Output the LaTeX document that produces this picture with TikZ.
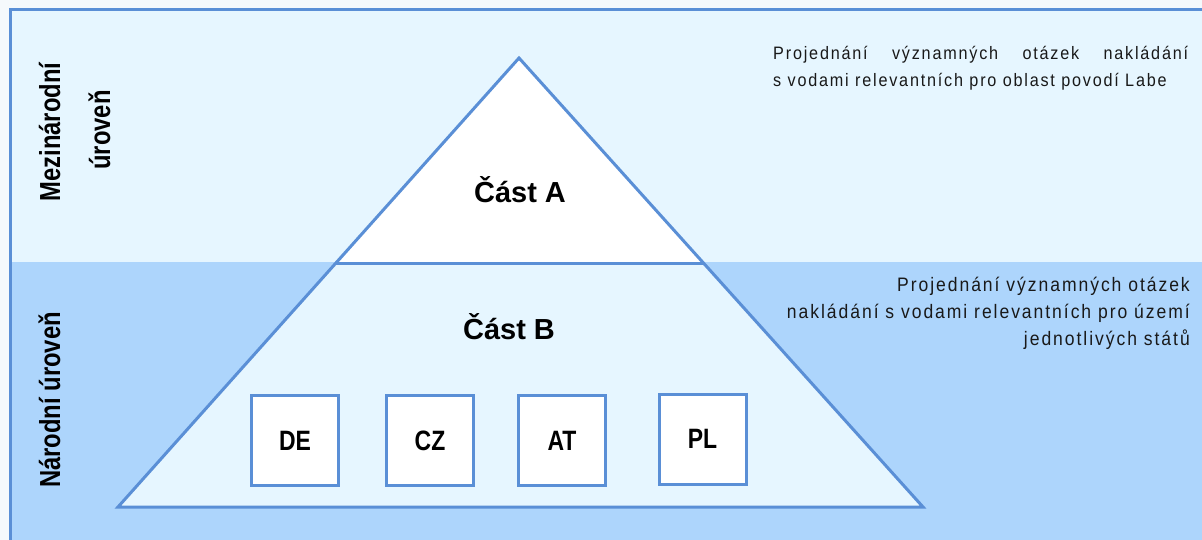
\documentclass[tikz,border=0pt]{standalone}
\usepackage{fontspec}
\setmainfont{Liberation Sans}
\newfontfamily\nbfont[FakeStretch=0.82]{Liberation Sans}
\newfontfamily\rtfont[FakeStretch=0.9,LetterSpace=10]{Liberation Sans}
\definecolor{lineblue}{HTML}{5A8FD6}
\definecolor{bandtop}{HTML}{E6F6FF}
\definecolor{bandbot}{HTML}{ADD5FC}
\definecolor{outerbg}{HTML}{F5F9FC}
\tikzset{
  tri/.style={draw=lineblue, line width=3pt, line join=miter},
  cbox/.style={draw=lineblue, line width=3pt, fill=white, minimum width=87pt, minimum height=90pt, inner sep=0pt,
    font=\nbfont\bfseries\fontsize{28}{30}\selectfont},
  parttext/.style={font=\bfseries\fontsize{29}{32}\selectfont, inner sep=0pt},
  levtext/.style={font=\nbfont\bfseries\fontsize{29}{32}\selectfont, inner sep=0pt, rotate=90, anchor=base},
  rta/.style={font=\rtfont\fontsize{18}{22}\selectfont, inner sep=0pt, text=black!90},
  rtb/.style={font=\rtfont\fontsize{19.5}{23}\selectfont, inner sep=0pt, text=black!90, anchor=base east}
}
\begin{document}
\begin{tikzpicture}[x=1pt,y=-1pt]
\useasboundingbox (0,0) rectangle (1202,540);
\fill[outerbg] (0,0) rectangle (1202,540);
\fill[bandtop] (10,10) rectangle (1202,262);
\fill[bandbot] (10,262) rectangle (1202,540);
\draw[lineblue, line width=3pt] (10,540) -- (10,10) -- (1202,10);

% pyramid
\coordinate (apex) at (519,58);
\coordinate (bl) at (118,507);
\coordinate (br) at (923,507);
\coordinate (ml) at (336,263);
\coordinate (mr) at (703.5,263);
\fill[white] (apex) -- (ml) -- (mr) -- cycle;
\fill[bandtop] (ml) -- (bl) -- (br) -- (mr) -- cycle;
\draw[tri] (apex) -- (bl) -- (br) -- cycle;
\draw[tri] (ml) -- (mr);

\node[parttext] (castA) at (520,190) {Část A};
\node[parttext] (castB) at (509,327) {Část B};

\node[cbox] (de) at (295,440.5) {DE};
\node[cbox] (cz) at (430,440.5) {CZ};
\node[cbox] (at) at (562,440.5) {AT};
\node[cbox] (pl) at (702.5,439) {PL};

% level labels
\node[levtext] (mez1) at (60,132) {Mezinárodní};
\node[levtext] (mez2) at (110,130) {úroveň};
\node[levtext] (nar) at (60,400) {Národní úroveň};

% right descriptions
\node[rta, anchor=base west] (ra1) at (773,60) {\makebox[415pt][s]{Projednání významných otázek nakládání}};
\node[rta, anchor=base west] (ra2) at (773,87) {s vodami relevantních pro oblast povodí Labe};

\node[rtb] (rb1) at (1190,291) {Projednání významných otázek};
\node[rtb] (rb2) at (1190,318) {nakládání s vodami relevantních pro území};
\node[rtb] (rb3) at (1190,345) {jednotlivých států};
\end{tikzpicture}
\end{document}
